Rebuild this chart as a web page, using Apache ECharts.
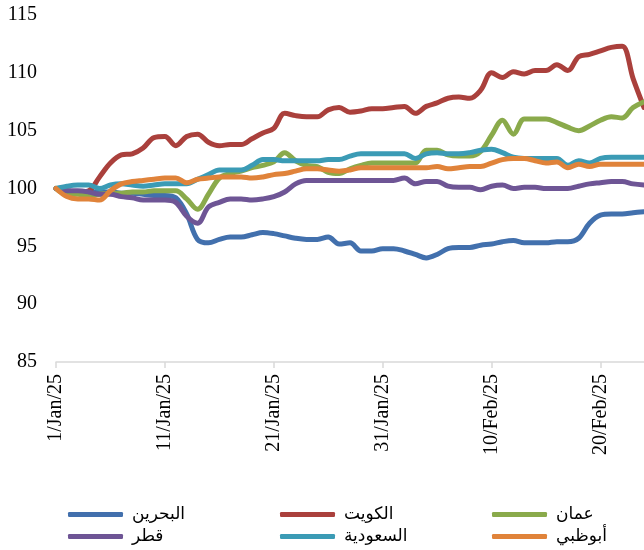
<!DOCTYPE html>
<html>
<head>
<meta charset="utf-8">
<script src="https://cdn.jsdelivr.net/npm/echarts@6/dist/echarts.min.js"></script>
<style>
html,body{margin:0;padding:0;background:#fff;}
#chart{width:644px;height:550px;}
</style>
</head>
<body>
<div id="chart"></div>
<script>
const dates = [
'1/Jan/25','2/Jan/25','3/Jan/25','4/Jan/25','5/Jan/25','6/Jan/25','7/Jan/25','8/Jan/25','9/Jan/25','10/Jan/25',
'11/Jan/25','12/Jan/25','13/Jan/25','14/Jan/25','15/Jan/25','16/Jan/25','17/Jan/25','18/Jan/25','19/Jan/25','20/Jan/25',
'21/Jan/25','22/Jan/25','23/Jan/25','24/Jan/25','25/Jan/25','26/Jan/25','27/Jan/25','28/Jan/25','29/Jan/25','30/Jan/25',
'31/Jan/25','1/Feb/25','2/Feb/25','3/Feb/25','4/Feb/25','5/Feb/25','6/Feb/25','7/Feb/25','8/Feb/25','9/Feb/25',
'10/Feb/25','11/Feb/25','12/Feb/25','13/Feb/25','14/Feb/25','15/Feb/25','16/Feb/25','17/Feb/25','18/Feb/25','19/Feb/25',
'20/Feb/25','21/Feb/25','22/Feb/25','23/Feb/25','24/Feb/25'
];

const seriesNames = ['البحرين','الكويت','عمان','قطر','السعودية','أبوظبي'];
const seriesColors = ['#4270AD','#AA403C','#8AAA4B','#6E5595','#3B9BB5','#E0833A'];

const bahrain = [
100,99.8,99.7,99.7,99.7,99.7,99.6,99.6,99.5,99.4,
99.4,99.2,97.8,95.6,95.3,95.6,95.8,95.8,96.0,96.2,
96.1,95.9,95.7,95.6,95.6,95.8,95.2,95.3,94.6,94.6,
94.8,94.8,94.6,94.3,94.0,94.3,94.8,94.9,94.9,95.1,
95.2,95.4,95.5,95.3,95.3,95.3,95.4,95.4,95.7,97.0,
97.7,97.8,97.8,97.9,98.0];

const kuwait = [
100,99.8,99.7,99.8,101.0,102.2,102.9,103.0,103.5,104.4,
104.5,103.7,104.5,104.7,104.0,103.7,103.8,103.8,104.3,104.8,
105.2,106.5,106.3,106.2,106.2,106.8,107.0,106.6,106.7,106.9,
106.9,107.0,107.1,106.5,107.1,107.4,107.8,107.9,107.8,108.5,
110.0,109.6,110.1,109.9,110.2,110.2,110.7,110.2,111.4,111.6,
111.9,112.2,112.3,109.5,107.0];

const oman = [
100,99.5,99.5,99.4,99.5,99.6,99.6,99.7,99.7,99.8,
99.8,99.8,99.1,98.2,99.5,100.9,101.3,101.5,101.8,102.0,
102.3,103.1,102.4,102.0,101.9,101.4,101.3,101.7,102.0,102.2,
102.2,102.2,102.2,102.2,103.3,103.3,102.9,102.8,102.8,103.2,
104.6,105.9,104.7,106.0,106.0,106.0,105.7,105.3,105.0,105.4,
105.9,106.2,106.1,107.0,107.5];

const qatar = [
100,99.8,99.8,99.7,99.5,99.5,99.3,99.2,99.0,99.0,
99.0,98.8,97.6,97.0,98.4,98.8,99.1,99.1,99.0,99.1,
99.3,99.7,100.4,100.7,100.7,100.7,100.7,100.7,100.7,100.7,
100.7,100.7,100.9,100.4,100.6,100.6,100.2,100.1,100.1,99.9,
100.2,100.3,100.0,100.1,100.1,100.0,100.0,100.0,100.2,100.4,
100.5,100.6,100.6,100.4,100.3];

const saudi = [
100,100.2,100.3,100.3,100.0,100.3,100.4,100.3,100.2,100.3,
100.4,100.4,100.4,100.8,101.2,101.6,101.6,101.6,102.0,102.5,
102.5,102.4,102.4,102.4,102.4,102.5,102.5,102.8,103.0,103.0,
103.0,103.0,103.0,102.6,103.0,103.1,103.0,103.0,103.1,103.3,
103.4,103.1,102.7,102.6,102.6,102.6,102.6,102.0,102.4,102.2,
102.6,102.7,102.7,102.7,102.7];

const abudhabi = [
100,99.3,99.1,99.1,99.0,99.8,100.4,100.6,100.7,100.8,
100.9,100.9,100.5,100.8,100.9,101.0,101.0,101.0,100.9,101.0,
101.2,101.3,101.5,101.7,101.7,101.6,101.5,101.6,101.8,101.8,
101.8,101.8,101.8,101.8,101.8,101.9,101.7,101.8,101.9,101.9,
102.2,102.5,102.6,102.6,102.4,102.2,102.3,101.8,102.1,101.9,
102.1,102.1,102.1,102.1,102.1];

const seriesData = [bahrain, kuwait, oman, qatar, saudi, abudhabi];

const yMin = 85, yMax = 115, yStep = 5;

const legendPos = [
  {left: 68, top: 506}, {left: 280, top: 506}, {left: 492, top: 506},
  {left: 68, top: 528}, {left: 280, top: 528}, {left: 492, top: 528}
];

const chart = echarts.init(document.getElementById('chart'), null, {renderer: 'canvas'});

const serif = '"Liberation Serif", "Times New Roman", serif';

const option = {
  animation: false,
  backgroundColor: '#fff',
  grid: {left: 56, right: -5, top: 15, bottom: 188, containLabel: false},
  xAxis: {
    type: 'category',
    data: dates,
    boundaryGap: false,
    axisLine: {show: true, lineStyle: {color: '#d9d9d9', width: 1.5}},
    axisTick: {show: true, interval: 9, length: 6, lineStyle: {color: '#d9d9d9', width: 1.5}},
    axisLabel: {interval: 9, rotate: 90, margin: 12, fontFamily: serif, fontSize: 20, color: '#000'},
    splitLine: {show: false}
  },
  yAxis: {
    type: 'value',
    min: yMin, max: yMax, interval: yStep,
    axisLine: {show: false},
    axisTick: {show: false},
    splitLine: {show: false},
    axisLabel: {margin: 19, fontFamily: serif, fontSize: 20, color: '#000'}
  },
  legend: seriesNames.map((n, i) => ({
    data: [n],
    left: legendPos[i].left,
    top: legendPos[i].top,
    icon: 'roundRect',
    itemWidth: 55,
    itemHeight: 5,
    selectedMode: false,
    padding: 0,
    textStyle: {fontFamily: '"DejaVu Sans", sans-serif', fontSize: 17, color: '#000', padding: [0,0,0,4]}
  })),
  series: seriesNames.map((n, i) => ({
    name: n,
    type: 'line',
    data: seriesData[i],
    smooth: 0.35,
    showSymbol: false,
    symbol: 'none',
    color: seriesColors[i],
    lineStyle: {width: 5, color: seriesColors[i], cap: 'round', join: 'round'},
    z: 2 + i
  }))
};

chart.setOption(option);
</script>
</body>
</html>
